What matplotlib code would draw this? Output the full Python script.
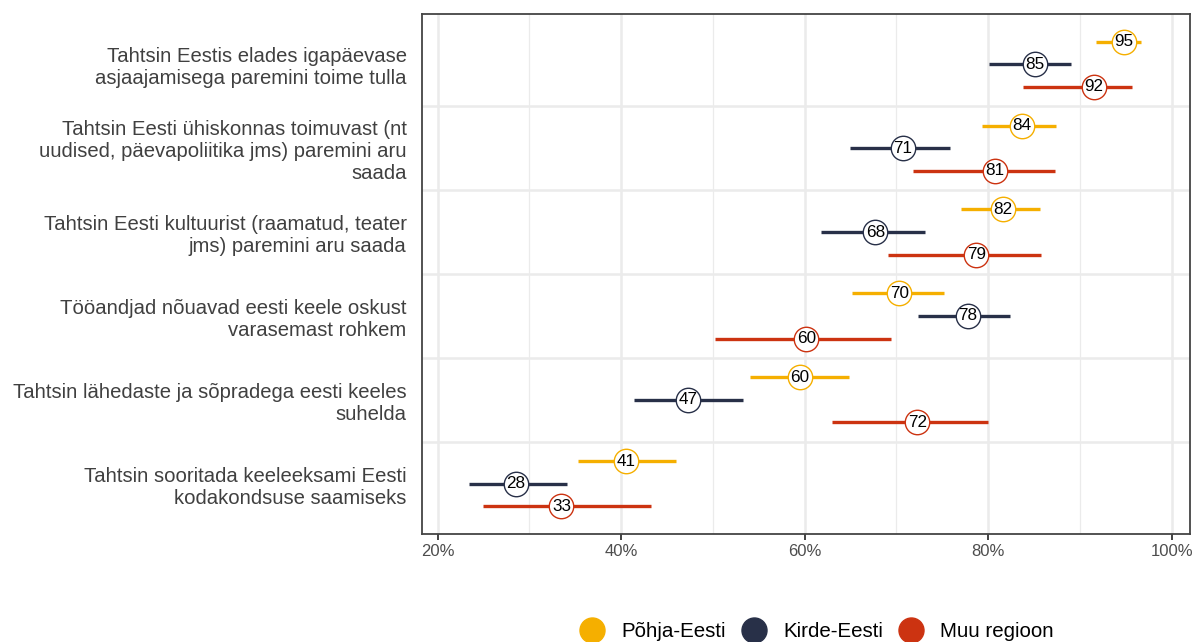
import matplotlib.pyplot as plt
from matplotlib.lines import Line2D

plt.rcParams['font.family'] = ['Liberation Sans', 'DejaVu Sans']

categories = [
    'Tahtsin Eestis elades igapäevase\nasjaajamisega paremini toime tulla',
    'Tahtsin Eesti ühiskonnas toimuvast (nt\nuudised, päevapoliitika jms) paremini aru\nsaada',
    'Tahtsin Eesti kultuurist (raamatud, teater\njms) paremini aru saada',
    'Tööandjad nõuavad eesti keele oskust\nvarasemast rohkem',
    'Tahtsin lähedaste ja sõpradega eesti keeles\nsuhelda',
    'Tahtsin sooritada keeleeksami Eesti\nkodakondsuse saamiseks',
]
groups = ['Põhja-Eesti', 'Kirde-Eesti', 'Muu regioon']
colors = ['#F5AF00', '#283048', '#CC3311']

# point estimates (%), lower and upper bounds per group
values = {
    'Põhja-Eesti': [94.8, 83.7, 81.6, 70.3, 59.5, 40.5],
    'Kirde-Eesti': [85.1, 70.7, 67.7, 77.8, 47.3, 28.5],
    'Muu regioon': [91.5, 80.7, 78.7, 60.2, 72.3, 33.5],
}
lower = {
    'Põhja-Eesti': [91.8, 79.3, 77.0, 65.2, 54.1, 35.3],
    'Kirde-Eesti': [80.1, 65.0, 61.8, 72.4, 41.4, 23.4],
    'Muu regioon': [83.8, 71.8, 69.1, 50.2, 63.0, 24.9],
}
upper = {
    'Põhja-Eesti': [96.7, 87.4, 85.6, 75.2, 64.8, 46.0],
    'Kirde-Eesti': [89.0, 75.8, 73.1, 82.4, 53.3, 34.1],
    'Muu regioon': [95.7, 87.3, 85.8, 69.4, 80.0, 43.3],
}
labels = {
    'Põhja-Eesti': [95, 84, 82, 70, 60, 41],
    'Kirde-Eesti': [85, 71, 68, 78, 47, 28],
    'Muu regioon': [92, 81, 79, 60, 72, 33],
}

fig = plt.figure(figsize=(11.96, 6.42), dpi=100)
ax = fig.add_axes([0.3528, 0.1682, 0.995 - 0.3528, 0.9782 - 0.1682])

n = len(categories)
ypos = [n - 1 - i for i in range(n)]
offsets = [0.27, 0.0, -0.27]

for g, col, off in zip(groups, colors, offsets):
    for i, y in enumerate(ypos):
        yy = y + off
        ax.plot([lower[g][i], upper[g][i]], [yy, yy], color=col, lw=2.4,
                solid_capstyle='butt', zorder=3)
        ax.scatter(values[g][i], yy, s=310, facecolor='white',
                   edgecolor=col, linewidth=1.0, zorder=4)
        ax.text(values[g][i], yy, str(labels[g][i]), ha='center', va='center',
                fontsize=12.3, color='black', zorder=5)

# separators between categories
for k in range(n - 1):
    ax.axhline(k + 0.5, color='#EBEBEB', lw=1.8, zorder=1)

ax.set_xlim(18.3, 102.0)
ax.set_ylim(-0.6, n - 0.4)
ax.set_xticks([20, 40, 60, 80, 100])
ax.set_xticklabels(['20%', '40%', '60%', '80%', '100%'])
ax.set_xticks([30, 50, 70, 90], minor=True)
ax.grid(axis='x', which='major', color='#EBEBEB', lw=1.8, zorder=0)
ax.grid(axis='x', which='minor', color='#EBEBEB', lw=0.9, zorder=0)
ax.set_axisbelow(True)

ax.set_yticks(ypos)
ax.set_yticklabels(categories, fontsize=14.6, color='#404040', linespacing=1.2)
ax.tick_params(axis='y', length=0, pad=11)
ax.tick_params(axis='x', which='major', length=4, width=1.3, color='#333333',
               labelsize=12, labelcolor='#4D4D4D', pad=3)
ax.tick_params(axis='x', which='minor', length=0)

for s in ax.spines.values():
    s.set_color('#444444')
    s.set_linewidth(1.3)

handles = [Line2D([], [], marker='o', linestyle='none', markersize=18,
                  markerfacecolor=c, markeredgecolor=c) for c in colors]
fig.legend(handles, groups, loc='center', bbox_to_anchor=(817 / 1196, 0.0156),
           ncol=3, frameon=False, fontsize=14.8, handlelength=1.2,
           handletextpad=0.81, columnspacing=0.78, borderpad=0, borderaxespad=0)

fig.savefig('out.png', dpi=100)
